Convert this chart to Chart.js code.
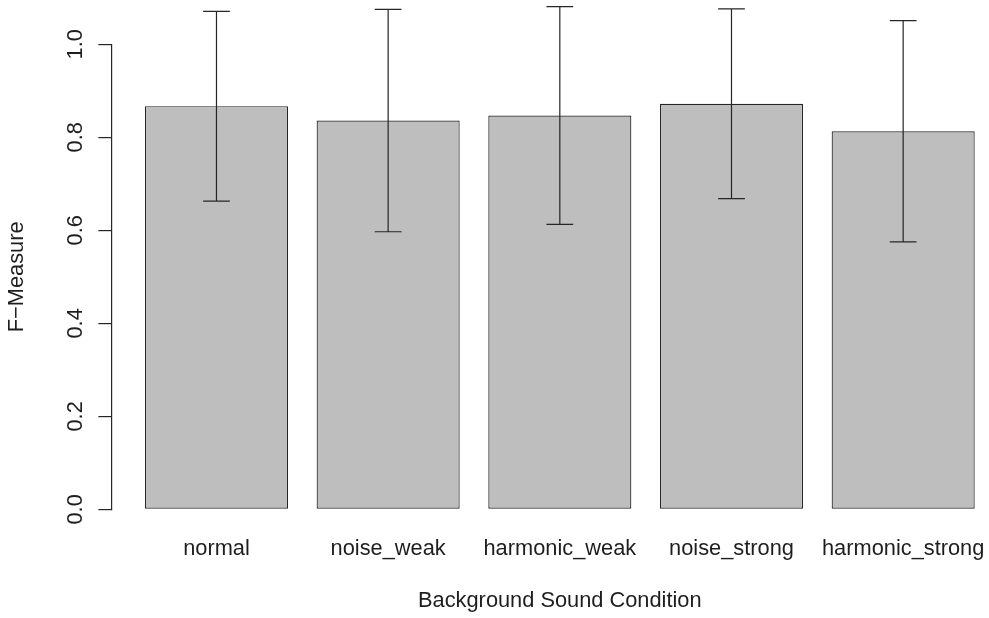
<!DOCTYPE html>
<html>
<head>
<meta charset="utf-8">
<title>F-Measure by Background Sound Condition</title>
<script src="https://cdn.jsdelivr.net/npm/chart.js@4.4.1/dist/chart.umd.min.js"></script>
<style>
  html, body { margin: 0; padding: 0; background: #ffffff; }
  #wrap { width: 989px; height: 618px; }
  canvas { display: block; }
</style>
</head>
<body>
<div id="wrap"><canvas id="chart" width="989" height="618"></canvas></div>
<script>
// Mean F-measure per background sound condition, with one standard deviation
const categories = ['normal', 'noise_weak', 'harmonic_weak', 'noise_strong', 'harmonic_strong'];
const meanF = [0.867, 0.836, 0.847, 0.872, 0.813];
const sdF = [0.204, 0.239, 0.234, 0.204, 0.238];

// Value-axis ticks and their printed labels
const yTickValues = [0, 0.2, 0.4, 0.6, 0.8, 1.0];
const yTickLabels = ['0.0', '0.2', '0.4', '0.6', '0.8', '1.0'];

const xAxisTitle = 'Background Sound Condition';

const FONT = "'Liberation Sans', Arial, Helvetica, sans-serif";
const FONT_SIZE = 21.8;
const INK = '#1e1e1e';
const LINE = '#262626';

// Rotated value labels beside the tick marks (read bottom to top)
const rotatedYLabels = {
  id: 'rotatedYLabels',
  afterDraw(chart) {
    const scale = chart.scales.y;
    const ctx = chart.ctx;
    const x = scale.right - scale.options.grid.tickLength - 16.4;
    ctx.save();
    ctx.fillStyle = INK;
    ctx.font = FONT_SIZE + 'px ' + FONT;
    ctx.textAlign = 'center';
    ctx.textBaseline = 'alphabetic';
    scale.ticks.forEach((t) => {
      const y = scale.getPixelForValue(t.value);
      ctx.save();
      ctx.translate(x, y);
      ctx.rotate(-Math.PI / 2);
      ctx.fillText(yTickLabels[yTickValues.indexOf(t.value)], 0, 0);
      ctx.restore();
    });
    ctx.restore();
  }
};

// Axis title centred under the group of bars
const bottomTitle = {
  id: 'bottomTitle',
  afterDraw(chart) {
    const xs = chart.scales.x;
    const ctx = chart.ctx;
    const mid = xs.getPixelForValue((categories.length - 1) / 2);
    ctx.save();
    ctx.fillStyle = INK;
    ctx.font = FONT_SIZE + 'px ' + FONT;
    ctx.textAlign = 'center';
    ctx.textBaseline = 'alphabetic';
    ctx.fillText(xAxisTitle, mid, chart.height - 11.3);
    ctx.restore();
  }
};

// Error bars: mean ± sd with flat caps
const errorBars = {
  id: 'errorBars',
  afterDatasetsDraw(chart) {
    const xs = chart.scales.x, ys = chart.scales.y;
    const ctx = chart.ctx;
    const bars = chart.getDatasetMeta(0).data;
    ctx.save();
    ctx.strokeStyle = LINE;
    ctx.lineWidth = 1.2;
    meanF.forEach((m, i) => {
      const x = xs.getPixelForValue(i);
      const yHi = ys.getPixelForValue(m + sdF[i]);
      const yLo = ys.getPixelForValue(m - sdF[i]);
      const cap = bars[i].width * 0.0935;
      ctx.beginPath();
      ctx.moveTo(x, yHi); ctx.lineTo(x, yLo);
      ctx.moveTo(x - cap, yHi); ctx.lineTo(x + cap, yHi);
      ctx.moveTo(x - cap, yLo); ctx.lineTo(x + cap, yLo);
      ctx.stroke();
    });
    ctx.restore();
  }
};

Chart.defaults.font.family = FONT;
Chart.defaults.font.size = FONT_SIZE;
Chart.defaults.color = INK;

new Chart(document.getElementById('chart'), {
  type: 'bar',
  data: {
    datasets: [{
      data: meanF.map((v, i) => ({ x: i, y: v })),
      backgroundColor: '#bebebe',
      borderColor: LINE,
      borderWidth: 1.2,
      borderSkipped: false,
      barPercentage: 1 / 1.2,
      categoryPercentage: 1
    }]
  },
  options: {
    responsive: false,
    animation: false,
    devicePixelRatio: 1,
    layout: { padding: { left: 4.4, right: 0, top: 44.3, bottom: 29 } },
    plugins: {
      legend: { display: false },
      tooltip: { enabled: false }
    },
    scales: {
      x: {
        type: 'linear',
        offset: false,
        min: -0.61,
        max: 4.50,
        afterBuildTicks(scale) { scale.ticks = categories.map((c, i) => ({ value: i })); },
        ticks: {
          autoSkip: false,
          maxRotation: 0,
          minRotation: 0,
          padding: 0,
          color: INK,
          font: { size: FONT_SIZE, lineHeight: '79.6px' },
          callback: (v) => categories[v]
        },
        grid: { display: false, drawTicks: false, tickLength: 0 },
        border: { display: false }
      },
      y: {
        type: 'linear',
        min: 0,
        max: 1.0,
        afterBuildTicks(scale) { scale.ticks = yTickValues.map(v => ({ value: v })); },
        ticks: { display: false },
        grid: {
          display: true,
          drawOnChartArea: false,
          drawTicks: true,
          tickLength: 13.4,
          color: LINE,
          lineWidth: 1.2
        },
        border: { display: true, color: LINE, width: 1.2 },
        title: {
          display: true,
          text: 'F\u2212Measure',
          color: INK,
          padding: { top: 0, bottom: 67.8 }
        }
      }
    }
  },
  plugins: [errorBars, rotatedYLabels, bottomTitle]
});
</script>
</body>
</html>
